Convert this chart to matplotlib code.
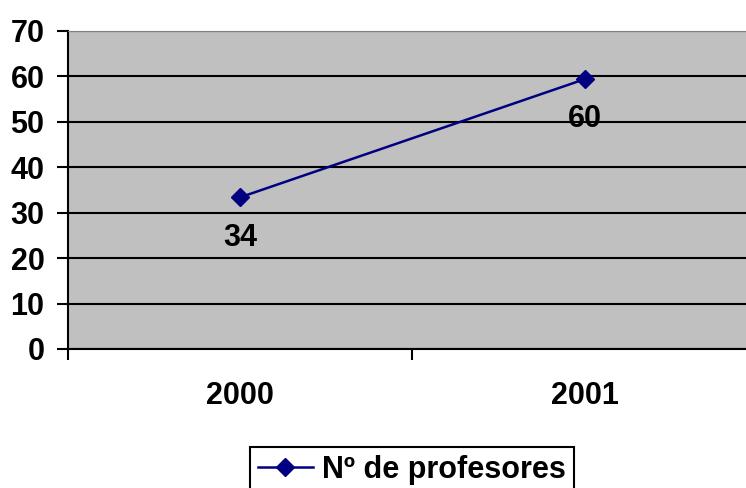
import numpy as np
import matplotlib.pyplot as plt
from matplotlib.ticker import FixedLocator

plt.rcParams['font.family'] = ['Liberation Sans', 'DejaVu Sans']

# datos
years = ["2000", "2001"]
profesores = [33.4, 59.4]
etiquetas = ["34", "60"]
serie = "Nº de profesores"

W, H = 746, 488
fs = 22
fig = plt.figure(figsize=(W / 100, H / 100), dpi=100)
ax = fig.add_axes([68 / W, 1 - 349 / H, (757 - 68) / W, (349 - 31) / H])
ax.set_facecolor("#C0C0C0")

x = np.arange(len(years))
ax.plot(x, profesores, color="#000080", lw=1.8, marker="D", ms=9,
        mec="#000080", mfc="#000080", label=serie, zorder=3)

for xi, yi, t in zip(x, profesores, etiquetas):
    ax.annotate(t, (xi, yi), xytext=(0, -29), textcoords="offset points",
                ha="center", va="center", fontsize=fs, fontweight="bold")

ax.set_xlim(-0.5, len(years) - 0.5)
ax.set_ylim(0, 70)
ax.set_yticks(range(0, 71, 10))
ax.yaxis.grid(True, color="black", lw=1.5)
ax.set_axisbelow(True)

ax.set_xticks(x)
ax.set_xticklabels(years)
ax.xaxis.set_minor_locator(FixedLocator([-0.5, 0.5, 1.5]))
ax.tick_params(axis="x", which="major", length=0, pad=23, labelsize=fs)
ax.tick_params(axis="x", which="minor", length=8, width=1.5, direction="out")
ax.tick_params(axis="y", length=8, width=1.5, pad=9, labelsize=fs)
for lab in ax.get_xticklabels() + ax.get_yticklabels():
    lab.set_fontweight("bold")

ax.spines["left"].set_linewidth(1.5)
ax.spines["bottom"].set_linewidth(1.5)
ax.spines["top"].set_color("#808080")
ax.spines["right"].set_visible(False)

leg = fig.legend(loc="upper center", bbox_to_anchor=(412 / W, 1 - 447 / H),
                 prop={"size": fs, "weight": "bold"}, fancybox=False,
                 edgecolor="black", framealpha=1, handlelength=1.8,
                 borderpad=0.25, handletextpad=0.3, borderaxespad=0)
leg.get_frame().set_linewidth(1.5)

fig.savefig("out.png", dpi=100)
